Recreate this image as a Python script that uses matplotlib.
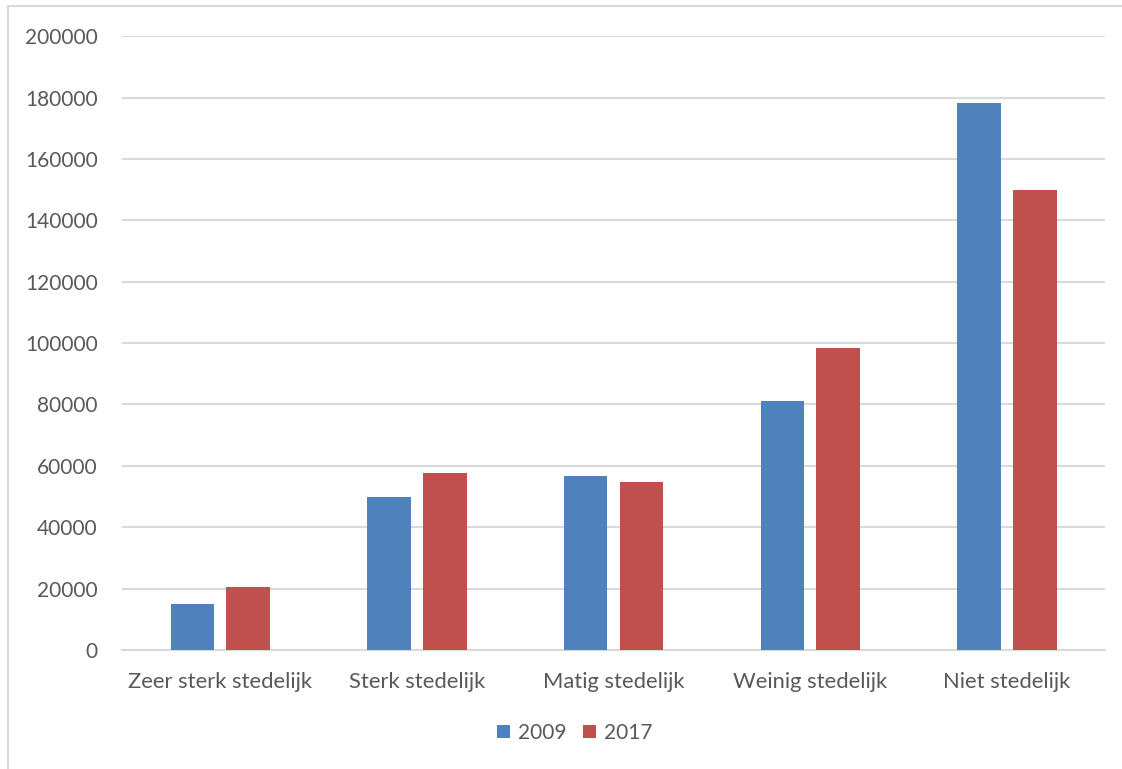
import matplotlib.pyplot as plt
from matplotlib.lines import Line2D
import numpy as np

categorieen = ['Zeer sterk stedelijk', 'Sterk stedelijk', 'Matig stedelijk',
               'Weinig stedelijk', 'Niet stedelijk']
jaren = ['2009', '2017']
waarden_2009 = [15000, 50000, 56600, 81100, 178100]
waarden_2017 = [20400, 57700, 54600, 98300, 150000]
yticks = np.arange(0, 200001, 20000)

plt.rcParams['font.family'] = ['Lato', 'DejaVu Sans']
tekstkleur = '#595959'
rasterkleur = '#d9d9d9'

fig = plt.figure(figsize=(11.22, 7.69), dpi=100)
ax = fig.add_axes([0.1087, 0.1547, 0.8763, 0.7983])

x = np.arange(len(categorieen))
breedte = 0.221
ax.bar(x - 0.142, waarden_2009, breedte, color='#4F81BD', label=jaren[0], zorder=3)
ax.bar(x + 0.142, waarden_2017, breedte, color='#C0504D', label=jaren[1], zorder=3)

ax.set_xlim(-0.5, len(categorieen) - 0.5)
ax.set_ylim(0, 200000)
ax.set_yticks(yticks)
ax.set_yticklabels([str(v) for v in yticks])
ax.set_xticks(x)
ax.set_xticklabels(categorieen)

ax.yaxis.grid(True, color=rasterkleur, linewidth=1.5, zorder=0)
for kant in ['top', 'right', 'left']:
    ax.spines[kant].set_visible(False)
ax.spines['bottom'].set_color(rasterkleur)
ax.spines['bottom'].set_linewidth(1.5)
ax.tick_params(axis='both', length=0, colors=tekstkleur)
ax.tick_params(axis='y', pad=17.5, labelsize=15)
ax.tick_params(axis='x', pad=16, labelsize=15.8)

ax.legend(loc='center', bbox_to_anchor=(0.512, 0.047), bbox_transform=fig.transFigure,
          ncol=2, frameon=False, fontsize=15, labelcolor=tekstkleur,
          handlelength=0.65, handleheight=0.65, handletextpad=0.35, columnspacing=0.8)

# rand van het grafiekgebied (alleen links en boven zichtbaar)
fig.add_artist(Line2D([0.0075, 0.0075], [0.0, 0.992], transform=fig.transFigure,
                      color=rasterkleur, linewidth=1.5))
fig.add_artist(Line2D([0.0075, 1.0], [0.992, 0.992], transform=fig.transFigure,
                      color=rasterkleur, linewidth=1.5))

fig.savefig('out.png', dpi=100)
